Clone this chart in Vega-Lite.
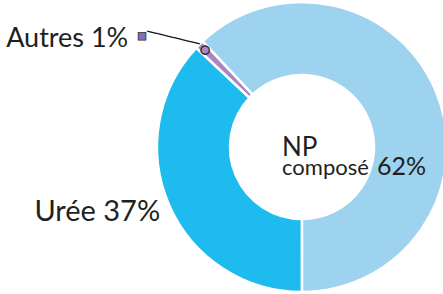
{
  "$schema": "https://vega.github.io/schema/vega-lite/v6.json",
  "width": 290,
  "height": 290,
  "autosize": "none",
  "padding": {"left": 157, "top": 2, "right": 0, "bottom": 2},
  "background": "white",
  "config": {"view": {"stroke": null}, "text": {"font": "Lato", "fill": "#231f20"}},
  "data": {"values": [
    {"categorie": "Urée", "part": 37},
    {"categorie": "Autres", "part": 1},
    {"categorie": "NP composé", "part": 62}
  ]},
  "encoding": {
    "theta": {"field": "part", "type": "quantitative", "stack": true, "scale": {"range": [5.529, 11.812]}},
    "order": {"field": "part", "type": "quantitative", "sort": "descending"},
    "detail": {"field": "categorie", "type": "nominal"}
  },
  "layer": [
    {
      "mark": {"type": "arc", "innerRadius": 72, "outerRadius": 145, "stroke": "white", "strokeWidth": 2.5},
      "encoding": {
        "color": {"field": "categorie", "type": "nominal", "legend": null,
          "scale": {"domain": ["NP composé", "Urée", "Autres"], "range": ["#9dd3ee", "#1ebcee", "#a987c0"]}}
      }
    },
    {
      "mark": {"type": "text", "radius": 146, "dx": -26, "angle": 13.6, "align": "center", "baseline": "middle", "fontSize": 15, "font": "DejaVu Sans", "fill": "#1a1a1a"},
      "encoding": {"text": {"condition": {"test": "datum.categorie === 'Autres'", "value": "──────"}, "value": ""}}
    },
    {
      "mark": {"type": "text", "radius": 157, "dx": -49, "align": "center", "baseline": "middle", "fontSize": 10, "font": "DejaVu Sans", "fill": "#8c6bb1", "stroke": "#333333", "strokeWidth": 0.8},
      "encoding": {"text": {"condition": {"test": "datum.categorie === 'Autres'", "value": "■"}, "value": ""}}
    },
    {
      "mark": {"type": "text", "radius": 137, "align": "center", "baseline": "middle", "fontSize": 11, "font": "DejaVu Sans", "fill": "#a987c0", "stroke": "#222222", "strokeWidth": 1.2},
      "encoding": {"text": {"condition": {"test": "datum.categorie === 'Autres'", "value": "●"}, "value": ""}}
    },
    {
      "mark": {"type": "text", "radius": 141, "dx": -74, "align": "right", "baseline": "alphabetic", "fontSize": 27},
      "encoding": {"text": {"condition": {"test": "datum.categorie === 'Autres'", "value": "Autres 1%"}, "value": ""}}
    },
    {
      "mark": {"type": "text", "radius": 160, "dx": 5, "dy": 10.5, "align": "right", "baseline": "alphabetic", "fontSize": 29},
      "encoding": {"text": {"condition": {"test": "datum.categorie === 'Urée'", "value": "Urée 37%"}, "value": ""}}
    },
    {
      "mark": {"type": "text", "radius": 0, "dx": -20, "dy": 9, "align": "left", "baseline": "alphabetic", "fontSize": 26},
      "encoding": {"text": {"condition": {"test": "datum.categorie === 'NP composé'", "value": "NP"}, "value": ""}}
    },
    {
      "mark": {"type": "text", "radius": 0, "dx": -20, "dy": 28, "align": "left", "baseline": "alphabetic", "fontSize": 22},
      "encoding": {"text": {"condition": {"test": "datum.categorie === 'NP composé'", "value": "composé"}, "value": ""}}
    },
    {
      "mark": {"type": "text", "radius": 0, "dx": 75, "dy": 28, "align": "left", "baseline": "alphabetic", "fontSize": 25},
      "encoding": {"text": {"condition": {"test": "datum.categorie === 'NP composé'", "value": "62%"}, "value": ""}}
    }
  ]
}
